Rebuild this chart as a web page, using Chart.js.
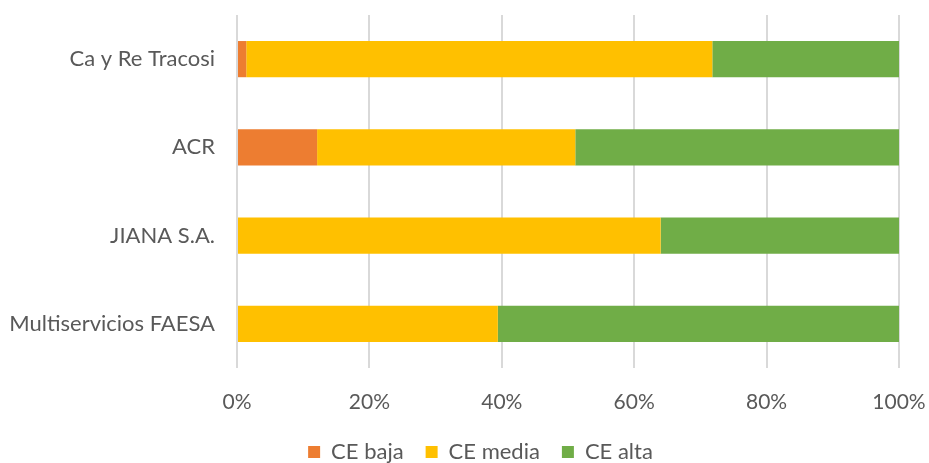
<!DOCTYPE html>
<html>
<head>
<meta charset="utf-8">
<script src="https://cdn.jsdelivr.net/npm/chart.js@4/dist/chart.umd.min.js"></script>
<style>
  html, body { margin: 0; padding: 0; background: #fff; }
  #wrap { width: 929px; height: 463px; position: relative; }
</style>
</head>
<body>
<div id="wrap"><canvas id="chart-bar-ce"></canvas></div>
<script>
// Empresas (de arriba hacia abajo)
const empresas = ["Ca y Re Tracosi", "ACR", "JIANA S.A.", "Multiservicios FAESA"];

// Porcentajes por nivel de CE
const ceBaja = [1.4, 12.1, 0, 0];
const ceMedia = [70.4, 39.0, 64.0, 39.4];
const ceAlta = [28.2, 48.9, 36.0, 60.6];

const xTicks = [0, 20, 40, 60, 80, 100];

const fontFam = "Lato, 'Noto Sans', sans-serif";
const gris = "#595959";

// corre la leyenda un poco a la derecha, como en el original
const legendShift = {
  id: "legendShift",
  afterLayout(chart) {
    chart.legend.left += 31;
    chart.legend.right += 31;
  },
};

const ctx = document.getElementById("chart-bar-ce").getContext("2d");
new Chart(ctx, {
  type: "bar",
  data: {
    labels: empresas,
    datasets: [
      { label: "CE baja", data: ceBaja, backgroundColor: "#ED7D31" },
      { label: "CE media", data: ceMedia, backgroundColor: "#FFC000" },
      { label: "CE alta", data: ceAlta, backgroundColor: "#70AD47" },
    ],
  },
  options: {
    indexAxis: "y",
    responsive: true,
    maintainAspectRatio: false,
    animation: false,
    layout: { padding: { top: 15, right: 30, left: 0, bottom: -10 } },
    datasets: { bar: { categoryPercentage: 0.41, barPercentage: 1 } },
    plugins: {
      tooltip: { enabled: false },
      legend: {
        position: "bottom",
        labels: {
          font: { family: fontFam, size: 22 },
          color: gris,
          boxWidth: 12,
          boxHeight: 12,
          padding: 22,
        },
      },
    },
    scales: {
      x: {
        stacked: true,
        min: 0,
        max: 100,
        afterBuildTicks: (scale) => {
          scale.ticks = xTicks.map((v) => ({ value: v }));
        },
        afterFit: (scale) => {
          scale.height = 51;
          scale.paddingLeft = 0;
          scale.paddingRight = 0;
        },
        border: { display: false },
        grid: { color: "#D9D9D9", lineWidth: 2, drawTicks: false },
        ticks: {
          padding: 22,
          color: gris,
          maxRotation: 0,
          font: { family: fontFam, size: 21 },
          callback: (v) => v + "%",
        },
      },
      y: {
        stacked: true,
        afterFit: (scale) => {
          scale.width = 237;
          scale.paddingTop = 0;
          scale.paddingBottom = 0;
        },
        border: { display: false },
        grid: { display: false, drawTicks: false },
        ticks: {
          padding: 22,
          color: gris,
          font: { family: fontFam, size: 22 },
        },
      },
    },
  },
  plugins: [legendShift],
});
</script>
</body>
</html>
